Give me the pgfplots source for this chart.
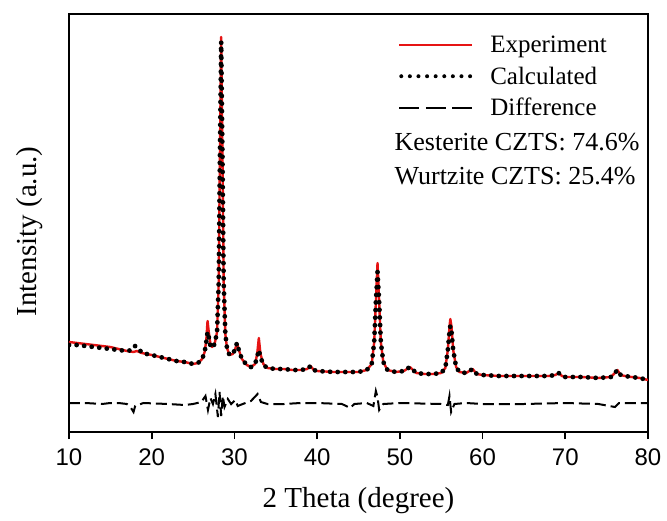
\documentclass[border=0pt]{standalone}
\usepackage{pgfplots}
\pgfplotsset{compat=1.18}
\usepackage{fontspec}
\setmainfont{Liberation Serif}
\newfontfamily\arialfont{Liberation Sans}
\definecolor{expred}{RGB}{230,20,20}
\begin{document}
\begin{tikzpicture}
\path[use as bounding box] (-69pt,-88pt) rectangle (598pt,432pt);
\begin{axis}[
  scale only axis,
  width=579pt, height=418pt,
  xmin=10, xmax=80, ymin=0, ymax=418,
  xtick={10,20,...,80},
  ytick=\empty,
  xtick pos=lower,
  tick align=outside,
  major tick length=7pt,
  axis line style={line width=1.6pt},
  every tick/.style={line width=1.6pt, black},
  /pgf/number format/assume math mode=true,
  xticklabel style={font=\arialfont\fontsize{24}{26}\selectfont, yshift=-6pt},
  xlabel={2 Theta (degree)},
  ylabel={Intensity (a.u.)},
  label style={font=\fontsize{29}{32}\selectfont},
  xlabel style={at={(axis description cs:0.5,-0.164)}, anchor=center},
  ylabel style={at={(axis description cs:-0.068,0.48)}, anchor=center},
  legend style={draw=none, fill=none, at={(0.568,0.952)}, anchor=north west,
    font=\fontsize{25}{28}\selectfont, row sep=8.5pt, inner sep=0pt,
    /tikz/every odd column/.append style={column sep=14pt}},
  legend cell align=left,
]
% Experiment
\addplot[expred, line width=2.4pt, line join=round, forget plot] coordinates {
(10,90)(11,89)(12,88)(13,87)(14,86)(15,85)(16,83)(17,81)(17.8,80)(18.2,81)(18.8,79)
(20,77)(21,75)(22,73)(23,71)(24,70)(25,68)(25.6,69)(26.1,73)(26.4,80)(26.6,92)(26.75,111)
(26.9,100)(27.1,88)(27.3,85)(27.6,88)(27.9,100)(28.1,150)(28.25,280)(28.4,395)(28.55,280)
(28.7,150)(28.9,98)(29.1,84)(29.4,77)(29.8,78)(30.1,83)(30.3,89)(30.5,83)(30.9,73)(31.5,67)
(32.0,65)(32.5,68)(32.75,78)(32.95,94)(33.15,78)(33.5,68)(34,64)(35,63)(36,63)(37,62)(38,62)
(38.8,63)(39.2,66)(39.6,62)(40,61)(42,60)(44,60)(45,60)(46,62)(46.6,68)(46.9,90)(47.1,130)
(47.3,169)(47.5,130)(47.7,90)(48.0,70)(48.5,62)(49.5,60)(50.5,61)(51.2,65)(51.6,62)(52,59)
(53,58)(54,58)(55,59)(55.5,64)(55.8,82)(56.0,105)(56.1,113)(56.25,105)(56.45,82)(56.8,65)
(57.2,60)(58,59)(58.8,63)(59.3,58)(60,57)(62,56)(64,56)(66,56)(68,56)(68.8,57)(69.2,59)
(69.6,56)(70,55)(72,55)(74,54)(75.5,55)(76.0,59)(76.3,62)(76.7,57)(77.2,56)(78,55)(79,54)(80,52)
};
% Calculated
\addplot[black, line width=4.8pt, line cap=round, dash pattern=on 0pt off 7.6pt, forget plot] coordinates {
(10,87)(11,87)(12,86)(13,85)(14,84)(15,83)(16,82)(17,81)(17.6,82)(18.0,86)(18.4,84)(18.8,79)
(20,77)(21,75)(22,73)(23,71)(24,70)(25,68)(25.6,69)(26.1,73)(26.4,80)(26.6,90)(26.75,100)
(26.9,95)(27.1,86)(27.3,84)(27.6,88)(27.9,100)(28.1,150)(28.25,280)(28.4,390)(28.55,280)
(28.7,150)(28.9,98)(29.1,84)(29.4,77)(29.8,78)(30.1,83)(30.3,89)(30.5,83)(30.9,73)(31.5,67)
(32.0,65)(32.5,68)(32.75,75)(32.95,82)(33.15,75)(33.5,67)(34,64)(35,63)(36,63)(37,62)(38,62)
(38.8,63)(39.2,66)(39.6,62)(40,61)(42,60)(44,60)(45,60)(46,62)(46.6,68)(46.9,90)(47.1,130)
(47.3,160)(47.5,130)(47.7,90)(48.0,70)(48.5,62)(49.5,60)(50.5,61)(51.2,65)(51.6,62)(52,59)
(53,58)(54,58)(55,59)(55.5,64)(55.8,82)(56.0,100)(56.1,106)(56.25,100)(56.45,82)(56.8,65)
(57.2,60)(58,59)(58.8,63)(59.3,58)(60,57)(62,56)(64,56)(66,56)(68,56)(68.8,57)(69.2,59)
(69.6,56)(70,55)(72,55)(74,54)(75.5,55)(76.0,59)(76.3,62)(76.7,57)(77.2,56)(78,55)(79,54)(80,52)
};
% Difference
\addplot[black, line width=2pt, dash pattern=on 11pt off 5pt, forget plot] coordinates {
(10,29)(12,29)(14,28)(15,29)(16,29)(17,28)(17.5,24)(17.8,20)(18,26)(19,29)(22,28)(24,27)(25,28)
(26,30)(26.5,36)(26.8,22)(27.1,34)(27.4,28)(27.7,38)(28.0,15)(28.2,40)(28.4,16)(28.6,36)
(28.8,25)(29.2,33)(29.6,28)(30.1,32)(30.4,26)(31,28)(32,31)(32.8,38)(33.2,30)(34,28)(36,28)
(38,29)(40,29)(43,28)(44,24)(44.5,28)(46,29)(46.8,26)(47.1,41)(47.3,35)(47.5,22)(48,28)
(50,29)(55,28)(55.8,27)(56.0,36)(56.2,20)(56.6,28)(58,29)(60,28)(65,28)(70,29)(74,28)
(76,25)(76.5,29)(80,29)
};
\addlegendimage{legend image code/.code={\draw[expred, line width=2.4pt] (0pt,0pt) -- (73pt,0pt);}}
\addlegendentry{Experiment}
\addlegendimage{legend image code/.code={\draw[black, line width=4pt, line cap=round, dash pattern=on 0pt off 8.6pt] (2pt,0pt) -- (73pt,0pt);}}
\addlegendentry{Calculated}
\addlegendimage{legend image code/.code={\draw[black, line width=2.2pt, dash pattern=on 20pt off 6.5pt] (0pt,0pt) -- (73pt,0pt);}}
\addlegendentry{Difference}
\node[anchor=west, inner sep=0pt, font=\fontsize{26}{28}\selectfont] at (rel axis cs:0.562,0.693) {Kesterite CZTS: 74.6\%};
\node[anchor=west, inner sep=0pt, font=\fontsize{26}{28}\selectfont] at (rel axis cs:0.562,0.612) {Wurtzite CZTS: 25.4\%};
\end{axis}
\end{tikzpicture}
\end{document}
